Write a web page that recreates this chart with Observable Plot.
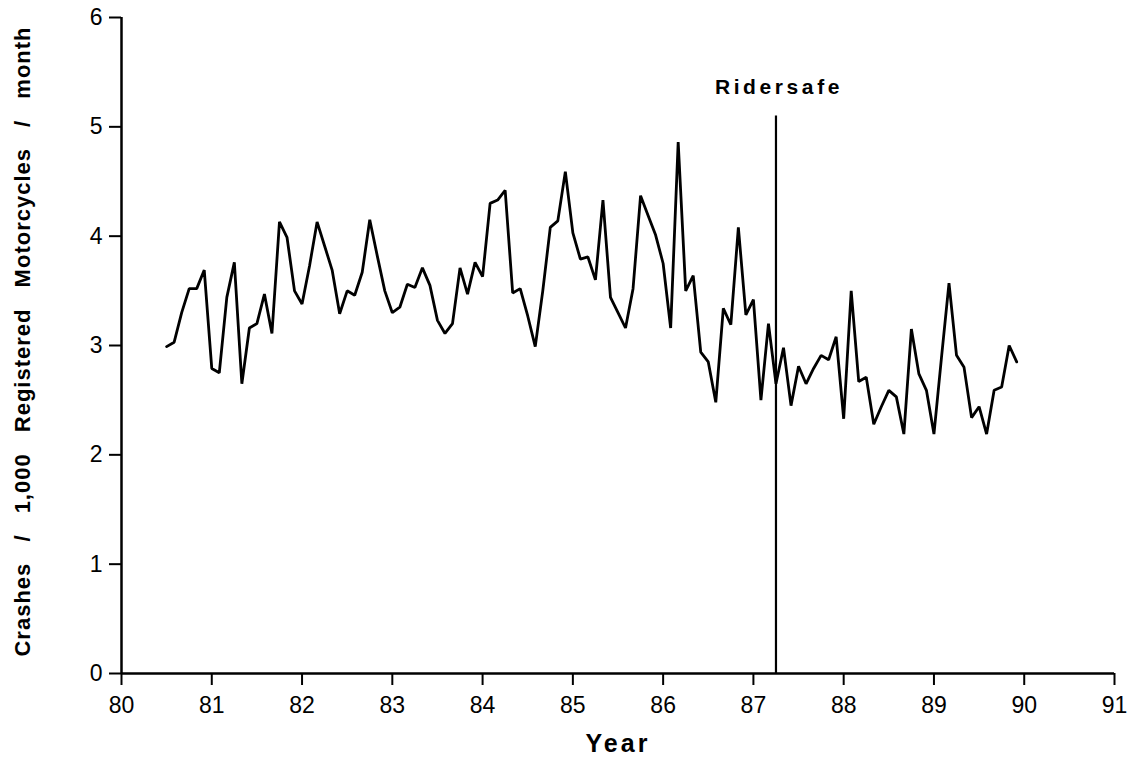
<!DOCTYPE html>
<html>
<head>
<meta charset="utf-8">
<script src="https://cdn.jsdelivr.net/npm/d3@7"></script>
<script src="https://cdn.jsdelivr.net/npm/@observablehq/plot@0.6"></script>
<style>
  html, body { margin: 0; padding: 0; background: #fff; }
  #chart svg { display: block; }
</style>
</head>
<body>
<div id="chart"></div>
<script>
// Monthly crash rate, July 1980 onward (one value per month)
const rates = [
  2.99, 3.03, 3.30, 3.52, 3.52, 3.69, 2.79, 2.75, 3.44, 3.76, 2.65, 3.16,
  3.20, 3.47, 3.11, 4.13, 3.99, 3.50, 3.38, 3.73, 4.13, 3.91, 3.69, 3.29,
  3.50, 3.46, 3.67, 4.15, 3.82, 3.50, 3.30, 3.35, 3.56, 3.53, 3.71, 3.55,
  3.23, 3.11, 3.20, 3.71, 3.47, 3.76, 3.63, 4.30, 4.33, 4.42, 3.48, 3.52,
  3.27, 2.99, 3.50, 4.08, 4.14, 4.59, 4.03, 3.79, 3.81, 3.60, 4.33, 3.44,
  3.30, 3.16, 3.52, 4.37, 4.19, 4.01, 3.75, 3.16, 4.86, 3.50, 3.64, 2.94,
  2.85, 2.48, 3.34, 3.19, 4.08, 3.28, 3.42, 2.50, 3.20, 2.65, 2.98, 2.45,
  2.81, 2.65, 2.79, 2.91, 2.87, 3.08, 2.33, 3.50, 2.67, 2.71, 2.28, 2.44,
  2.59, 2.53, 2.19, 3.15, 2.74, 2.59, 2.19, 2.89, 3.57, 2.91, 2.80, 2.34,
  2.44, 2.19, 2.59, 2.62, 3.00, 2.85
];
const firstMonth = 80.5;            // July 1980 as decimal year
const xTicks = [80, 81, 82, 83, 84, 85, 86, 87, 88, 89, 90, 91];
const yTicks = [0, 1, 2, 3, 4, 5, 6];
const interventionYear = 87.25;
const interventionTop = 5.1;
const interventionLabel = "Ridersafe";
const xLabel = "Year";
const yLabel = "Crashes / 1,000 Registered Motorcycles / month";

const data = rates.map((v, i) => ({ year: firstMonth + i / 12, rate: v }));

const font = "'Liberation Sans', Arial, Helvetica, sans-serif";

const chart = Plot.plot({
  width: 1128,
  height: 762,
  marginLeft: 121,
  marginRight: 14,
  marginTop: 17,
  marginBottom: 89,
  style: { fontFamily: font, background: "#fff", color: "#000", overflow: "visible" },
  x: { domain: [80, 91] },
  y: { domain: [0, 6] },
  marks: [
    Plot.axisX({ ticks: xTicks, tickSize: 12, tickPadding: 11, fontSize: 23, label: null, tickFormat: d => String(d), strokeWidth: 2 }),
    Plot.axisY({ ticks: yTicks, tickSize: 12, tickPadding: 7, fontSize: 23, label: null, tickFormat: d => String(d), strokeWidth: 2 }),
    Plot.ruleY([0], { strokeWidth: 2.5 }),
    Plot.ruleX([80], { strokeWidth: 2.5 }),
    Plot.line(data, { x: "year", y: "rate", stroke: "black", strokeWidth: 2.8, strokeLinejoin: "miter" }),
    Plot.ruleX([interventionYear], { y1: 0, y2: interventionTop, strokeWidth: 2.2 }),
    Plot.text([interventionLabel], { x: interventionYear, y: 5.36, dx: 3, fontWeight: "bold", fontSize: 21 }),
    Plot.text([xLabel], { frameAnchor: "bottom", dy: 78, fontWeight: "bold", fontSize: 25 }),
    Plot.text([yLabel], { frameAnchor: "left", textAnchor: "middle", dx: -99, dy: -4, rotate: -90, fontWeight: "bold", fontSize: 22 })
  ]
});

document.getElementById("chart").appendChild(chart);

d3.select(chart).selectAll("text").each(function () {
  const t = this.textContent;
  if (t === interventionLabel) d3.select(this).style("letter-spacing", "3.6px");
  if (t === xLabel) d3.select(this).style("letter-spacing", "3px");
  if (t === yLabel) d3.select(this).style("letter-spacing", "1px").style("word-spacing", "14px");
});
</script>
</body>
</html>
